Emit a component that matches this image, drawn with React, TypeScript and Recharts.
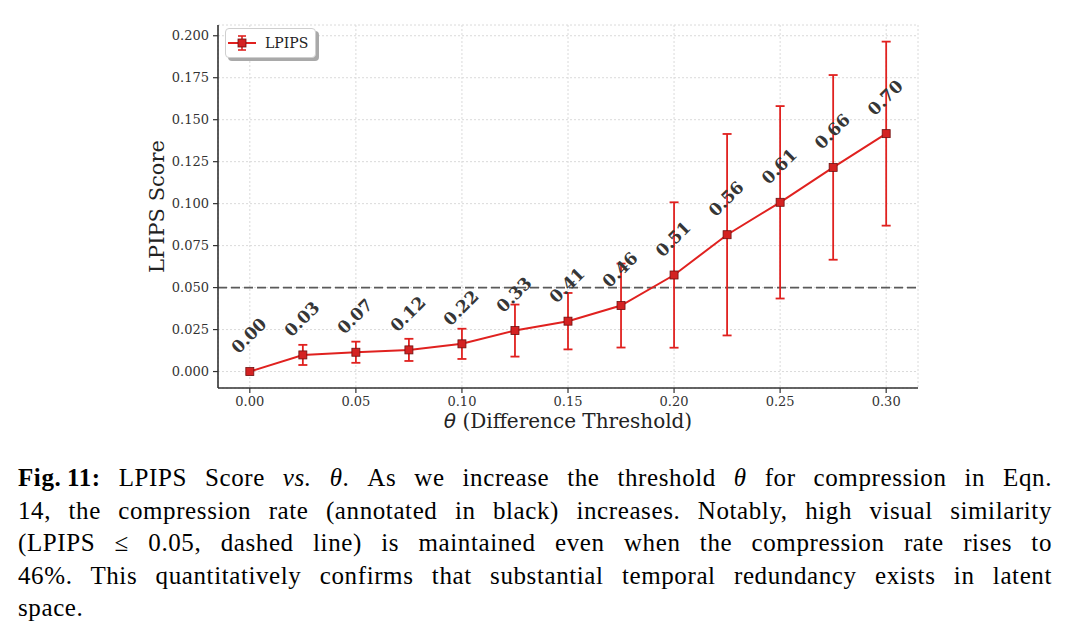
import React from 'react';
import {
  ComposedChart,
  Line,
  XAxis,
  YAxis,
  CartesianGrid,
  ErrorBar,
  ReferenceLine,
  LabelList,
  Legend,
  Label,
} from 'recharts';

// Difference threshold θ used for latent compression
const thresholds = [0, 0.025, 0.05, 0.075, 0.1, 0.125, 0.15, 0.175, 0.2, 0.225, 0.25, 0.275, 0.3];
// Mean LPIPS score at each threshold
const lpipsMean = [0, 0.0099, 0.0115, 0.0129, 0.0165, 0.0244, 0.03, 0.0393, 0.0575, 0.0815, 0.1008, 0.1216, 0.1417];
// Standard deviation of LPIPS (error bars)
const lpipsStd = [0, 0.006, 0.0063, 0.0066, 0.009, 0.0155, 0.0168, 0.025, 0.0433, 0.06, 0.0573, 0.055, 0.0548];
// Compression rate annotated above each point
const compressionRates = ['0.00', '0.03', '0.07', '0.12', '0.22', '0.33', '0.41', '0.46', '0.51', '0.56', '0.61', '0.66', '0.70'];

const xTicks = [0, 0.05, 0.1, 0.15, 0.2, 0.25, 0.3];
const yTicks = [0, 0.025, 0.05, 0.075, 0.1, 0.125, 0.15, 0.175, 0.2];
const similarityThreshold = 0.05;

const data = thresholds.map((theta, i) => ({
  theta,
  mean: lpipsMean[i],
  err: lpipsStd[i],
  rate: compressionRates[i],
}));

const RED = '#e0211f';
const AXIS = '#333333';
const SERIF = '"DejaVu Serif", serif';

const SquareDot = (props: any) => {
  const { cx, cy, index } = props;
  if (cx == null || cy == null) return null;
  return (
    <rect
      key={`dot-${index}`}
      x={cx - 4}
      y={cy - 4}
      width={8}
      height={8}
      fill="#d42222"
      stroke="#6e1010"
      strokeWidth={0.8}
    />
  );
};

const RateLabel = (props: any) => {
  const { x, y, value, index } = props;
  if (x == null || y == null) return null;
  const cx = x - 1;
  const cy = y - 36;
  return (
    <text
      key={`rate-${index}`}
      x={cx}
      y={cy}
      transform={`rotate(-45 ${cx} ${cy})`}
      textAnchor="middle"
      dominantBaseline="central"
      fontFamily={SERIF}
      fontWeight="bold"
      fontSize={17}
      fill="#363636"
    >
      {value}
    </text>
  );
};

const LegendBox = () => (
  <div
    style={{
      boxSizing: 'border-box',
      width: 91,
      height: 30,
      border: '1px solid #cfcfcf',
      borderRadius: 4,
      background: '#fff',
      boxShadow: '3px 3px 0 #a9a9a9',
      display: 'flex',
      alignItems: 'center',
      fontFamily: SERIF,
      fontSize: 14,
      color: '#222',
    }}
  >
    <svg width={38} height={28} style={{ display: 'block' }}>
      <line x1={2} y1={14} x2={30} y2={14} stroke={RED} strokeWidth={2} />
      <line x1={16} y1={7} x2={16} y2={21} stroke={RED} strokeWidth={1.6} />
      <line x1={12} y1={7} x2={20} y2={7} stroke={RED} strokeWidth={1.6} />
      <line x1={12} y1={21} x2={20} y2={21} stroke={RED} strokeWidth={1.6} />
      <rect x={12} y={10} width={8} height={8} fill="#d42222" stroke="#6e1010" strokeWidth={0.8} />
    </svg>
    <span style={{ marginLeft: 1 }}>LPIPS</span>
  </div>
);

const captionLines: React.ReactNode[] = [
  <>
    <b>Fig.{'\u2009'}11:</b> LPIPS Score <i>vs.</i> <i>θ</i>. As we increase the threshold <i>θ</i> for compression in Eqn.
  </>,
  <>14, the compression rate (annotated in black) increases. Notably, high visual similarity</>,
  <>(LPIPS ≤ 0.05, dashed line) is maintained even when the compression rate rises to</>,
  <>46%. This quantitatively confirms that substantial temporal redundancy exists in latent</>,
  <>space.</>,
];

export default function App() {
  return (
    <div
      style={{
        position: 'absolute',
        left: 0,
        top: 0,
        width: 1068,
        height: 639,
        background: '#fff',
        overflow: 'hidden',
      }}
    >
      <ComposedChart
        width={1068}
        height={445}
        data={data}
        margin={{ top: 25, right: 150, bottom: 0, left: 148 }}
      >
        <CartesianGrid stroke="#dadada" strokeDasharray="2 2" strokeWidth={1} />
        <XAxis
          dataKey="theta"
          type="number"
          domain={[-0.015, 0.315]}
          ticks={xTicks}
          allowDataOverflow
          height={57}
          tickFormatter={(v: number) => v.toFixed(2)}
          tick={{ fontFamily: SERIF, fontSize: 13, fill: AXIS }}
          tickLine={{ stroke: AXIS, strokeWidth: 1.2 }}
          tickSize={5}
          tickMargin={4}
          axisLine={{ stroke: AXIS, strokeWidth: 1.6 }}
        >
          <Label
            content={(p: any) => {
              const vb = p.viewBox || {};
              const cx = vb.x + vb.width / 2;
              return (
                <text x={cx} y={vb.y + 40} textAnchor="middle" fontFamily={SERIF} fontSize={20} fill="#222">
                  <tspan fontFamily='"DejaVu Sans", sans-serif' fontStyle="italic">θ</tspan>
                  <tspan> (Difference Threshold)</tspan>
                </text>
              );
            }}
          />
        </XAxis>
        <YAxis
          type="number"
          domain={[-0.0098, 0.2064]}
          ticks={yTicks}
          allowDataOverflow
          width={70}
          tickFormatter={(v: number) => v.toFixed(3)}
          tick={{ fontFamily: SERIF, fontSize: 13, fill: AXIS }}
          tickLine={{ stroke: AXIS, strokeWidth: 1.2 }}
          tickSize={5}
          tickMargin={4}
          axisLine={{ stroke: AXIS, strokeWidth: 1.6 }}
        >
          <Label
            content={(p: any) => {
              const vb = p.viewBox || {};
              const cx = vb.x + 9;
              const cy = vb.y + vb.height / 2;
              return (
                <text
                  x={cx}
                  y={cy}
                  transform={`rotate(-90 ${cx} ${cy})`}
                  textAnchor="middle"
                  dominantBaseline="central"
                  fontFamily={SERIF}
                  fontSize={21}
                  fill="#222"
                >
                  LPIPS Score
                </text>
              );
            }}
          />
        </YAxis>
        <ReferenceLine
          y={similarityThreshold}
          stroke="#5a5a5a"
          strokeWidth={1.6}
          strokeDasharray="9 4"
        />
        <Legend
          layout="vertical"
          verticalAlign="middle"
          align="center"
          content={() => <LegendBox />}
          wrapperStyle={{ left: 225, top: 28, width: 'auto', height: 'auto' }}
        />
        <Line
          type="linear"
          dataKey="mean"
          name="LPIPS"
          stroke={RED}
          strokeWidth={2}
          dot={<SquareDot />}
          activeDot={false}
          isAnimationActive={false}
        >
          <ErrorBar dataKey="err" direction="y" width={4.5} stroke={RED} strokeWidth={1.8} isAnimationActive={false} />
          <LabelList dataKey="rate" content={<RateLabel />} />
        </Line>
      </ComposedChart>
      {captionLines.map((line, i) => (
        <div
          key={i}
          style={{
            position: 'absolute',
            left: 18,
            width: 1034,
            top: 462 + i * 32.5,
            lineHeight: '32px',
            fontFamily: '"Liberation Serif", serif',
            fontSize: 25,
            letterSpacing: 0.6,
            color: '#000',
            textAlign: i < 4 ? 'justify' : 'left',
            textAlignLast: i < 4 ? 'justify' : 'left',
            whiteSpace: 'nowrap',
          }}
        >
          {line}
        </div>
      ))}
    </div>
  );
}
